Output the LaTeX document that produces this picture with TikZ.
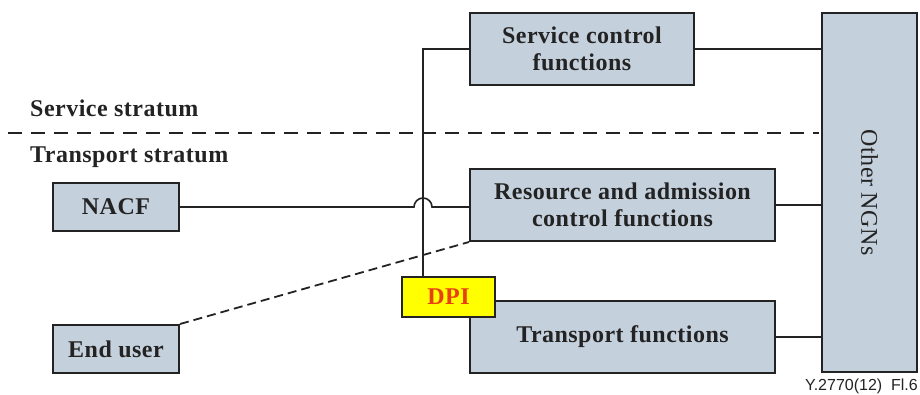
\documentclass[tikz,border=0pt]{standalone}
\usepackage{fontspec}
\setmainfont{Liberation Serif}[LetterSpace=2]
\setsansfont{Liberation Sans}
\definecolor{boxfill}{RGB}{197,208,221}
\definecolor{dpitext}{RGB}{232,64,16}
\definecolor{dpifill}{RGB}{255,255,0}
\definecolor{ink}{RGB}{35,35,35}
\tikzset{
  fbox/.style={draw=ink, line width=2pt, fill=boxfill, inner sep=0pt, align=center,
    font=\fontsize{24}{27}\selectfont\bfseries, text=ink},
  conn/.style={draw=ink, line width=1.6pt},
  dconn/.style={draw=ink, line width=1.8pt, dash pattern=on 9pt off 5pt},
  stratum/.style={draw=ink, line width=2pt, dash pattern=on 14pt off 9pt},
  lbl/.style={font=\fontsize{24}{27}\selectfont\bfseries, text=ink, anchor=west, inner sep=0pt}
}
\begin{document}
\begin{tikzpicture}[x=1pt,y=-1pt]
\useasboundingbox (0,0) rectangle (920,395);
% boxes
\node[fbox, minimum width=224pt, minimum height=72pt] (svc) at (582,49) {Service control\\functions};
\node[fbox, minimum width=305pt, minimum height=72pt] (rac) at (622.5,205) {Resource and admission\\control functions};
\node[fbox, minimum width=305pt, minimum height=72pt] (tf) at (622.5,337) {Transport functions};
\node[fbox, minimum width=95pt, minimum height=359pt] (ngn) at (869.5,192.5) {};
\node[font=\fontsize{24}{27}\selectfont, text=ink, rotate=-90, inner sep=0pt] (ngnt) at (ngn.center) {Other NGNs};
\node[fbox, minimum width=126pt, minimum height=48pt] (nacf) at (116,207) {NACF};
\node[fbox, minimum width=126pt, minimum height=48pt] (eu) at (116,349) {End user};
% stratum labels and separator
\node[lbl] (ss) at (30,108) {Service stratum};
\node[lbl] (ts) at (30,157) {Transport stratum};
\coordinate (sepL) at (8,133);
\coordinate (sepR) at (819,133);
\draw[stratum] (sepL) -- (sepR);
% connectors to other NGNs
\draw[conn] (svc.east) -- (svc.east -| ngn.west);
\draw[conn] (rac.east) -- (rac.east -| ngn.west);
\draw[conn] (tf.east) -- (tf.east -| ngn.west);
% NACF to RACF with jump
\coordinate (j1) at (414,207);
\draw[conn] (nacf.east) -- (j1) arc[start angle=180, end angle=0, radius=9pt] -- (rac.west |- nacf.east);
% end user dashed
\draw[dconn] (eu.north east) -- (rac.south west);
% DPI and vertical line
\node[fbox, fill=dpifill, minimum width=93pt, minimum height=40pt, text=dpitext,
  font=\fontsize{24}{27}\selectfont\bfseries] (dpi) at (448.5,297) {DPI};
\coordinate (vtop) at (423,49);
\draw[conn] (svc.west) -- (vtop) -- (vtop |- dpi.north);
% figure id
\node[font=\sffamily\fontsize{16}{18}\selectfont, text=ink, anchor=east, inner sep=0pt] (fid) at (918,386) {Y.2770(12)\ \ Fl.6};
\end{tikzpicture}
\end{document}
